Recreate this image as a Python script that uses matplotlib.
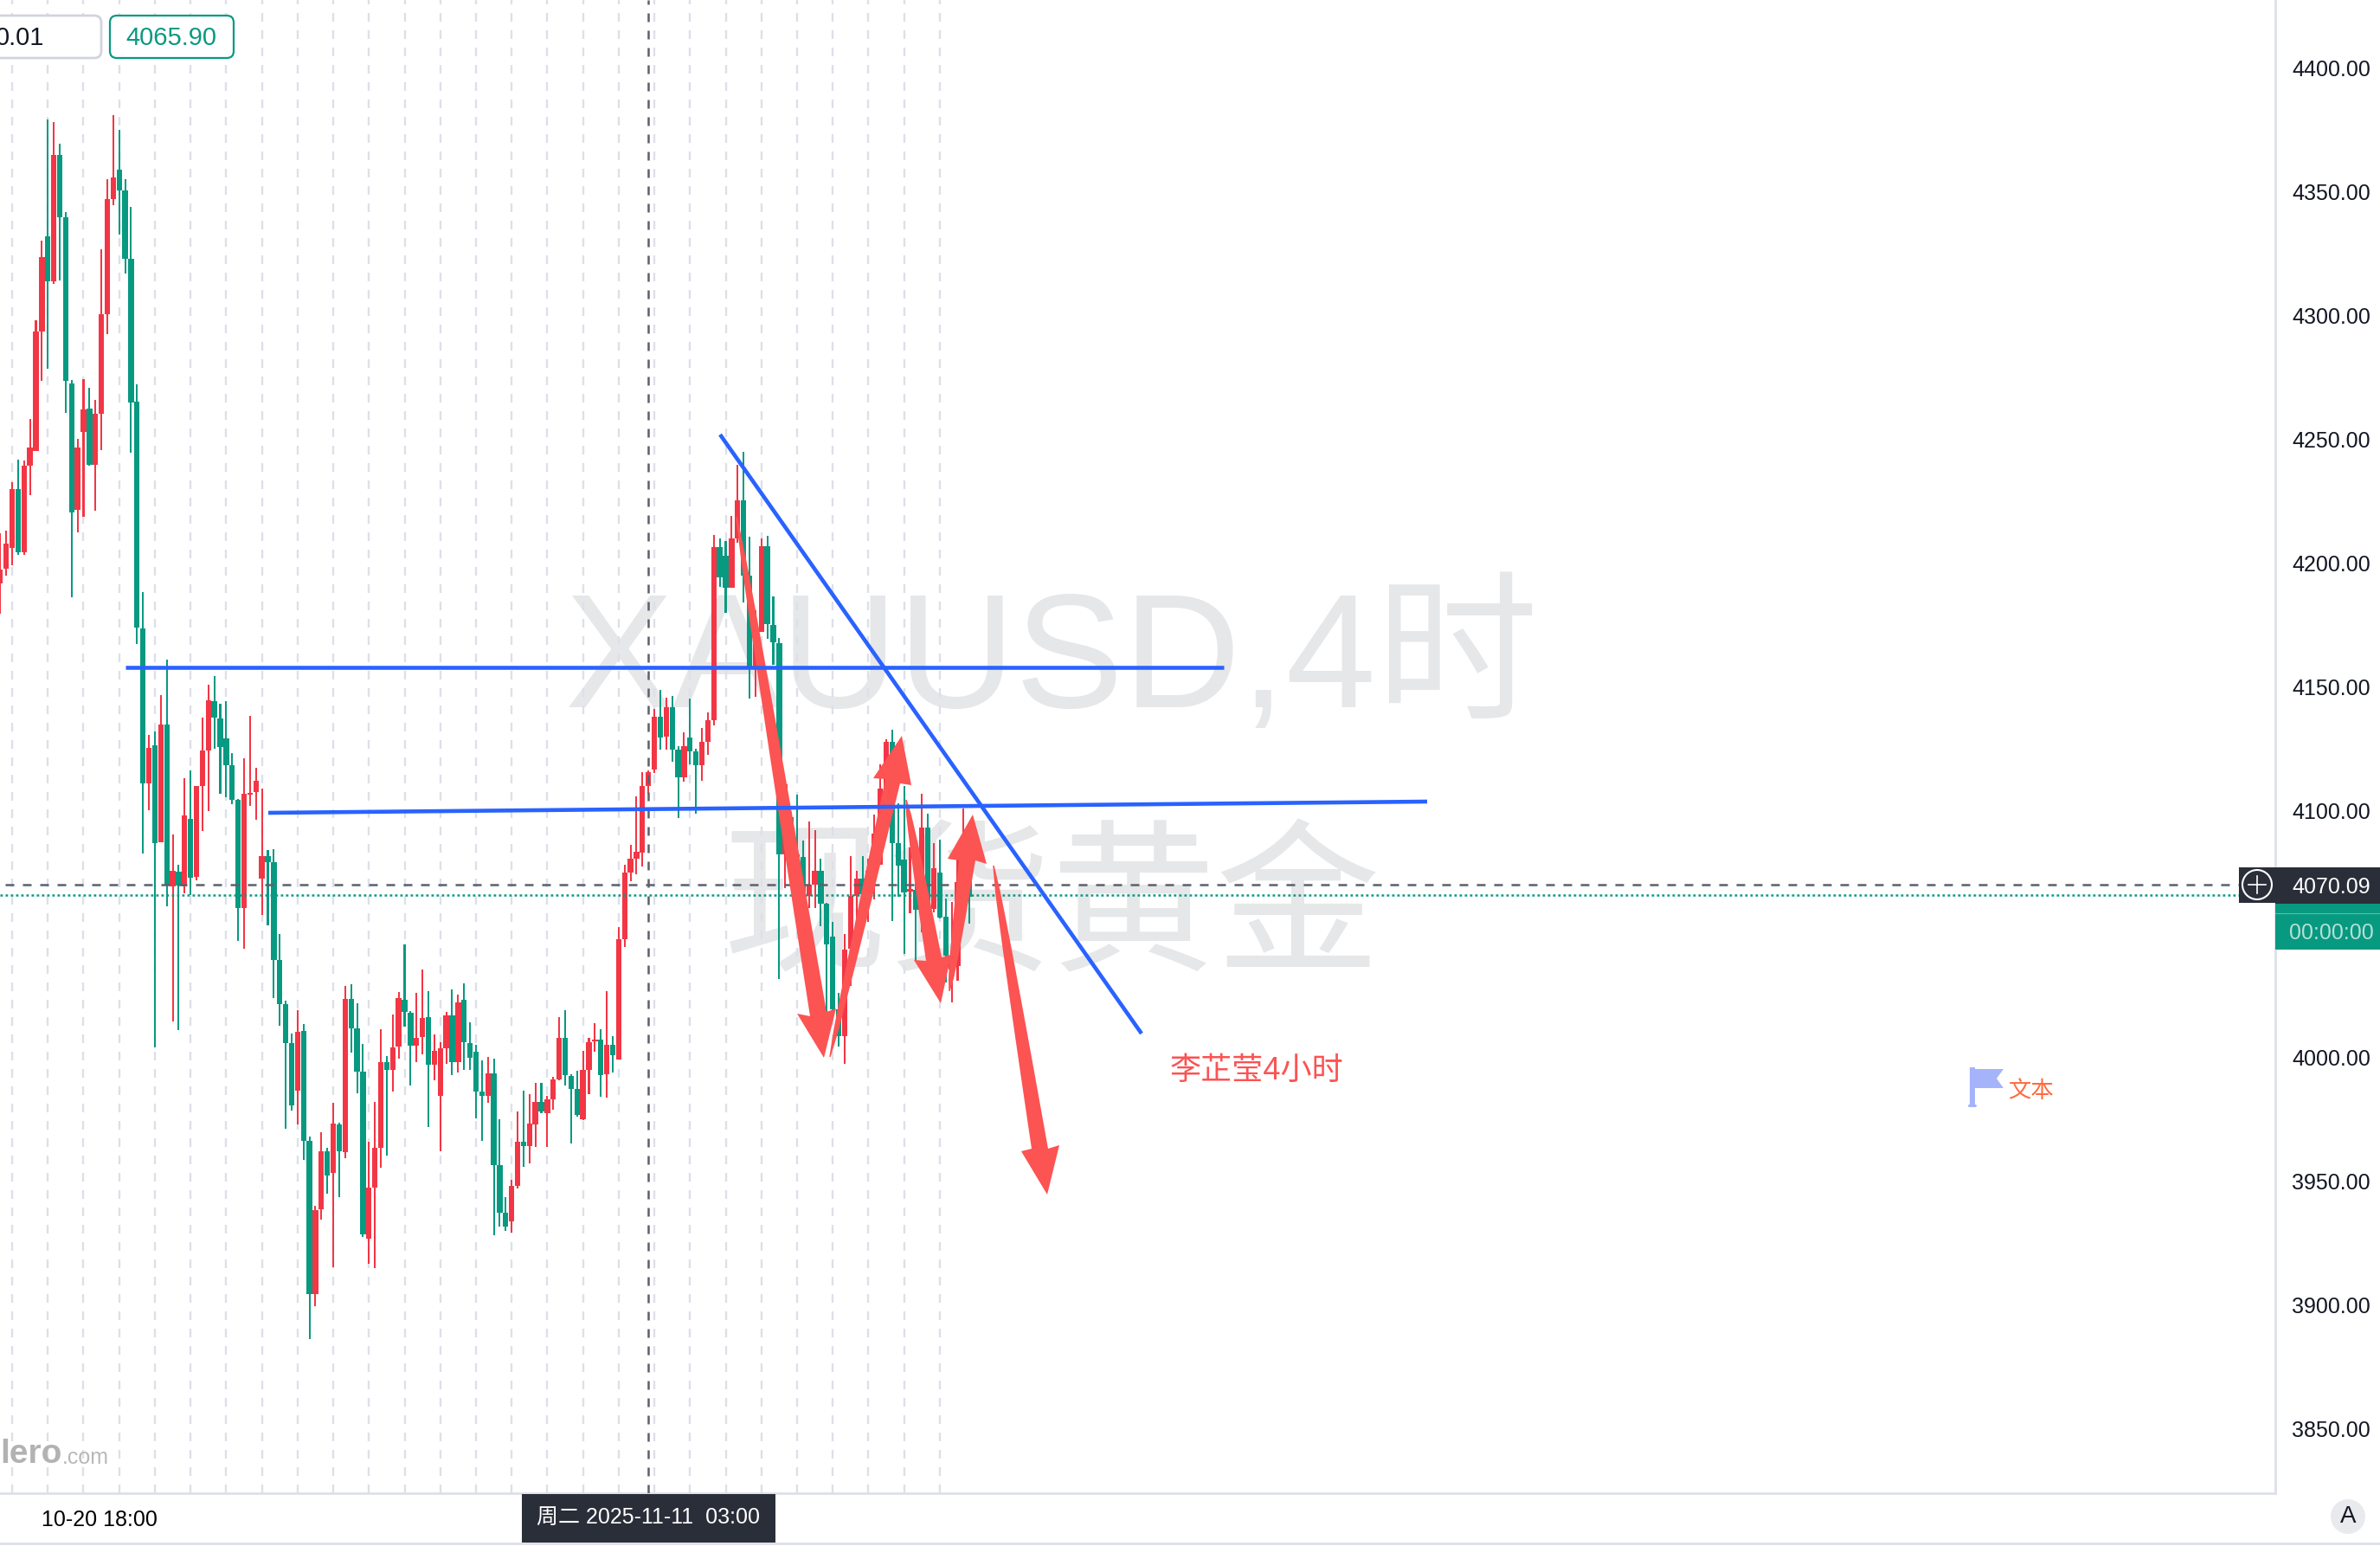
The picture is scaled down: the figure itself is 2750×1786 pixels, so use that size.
import numpy as np
import matplotlib
matplotlib.use("Agg")
import matplotlib.pyplot as plt
from matplotlib.patches import Polygon, Rectangle, Circle, FancyBboxPatch

plt.rcParams['font.family'] = ['Liberation Sans', 'Noto Sans CJK SC']
plt.rcParams['lines.scale_dashes'] = False

# 4h candles. r = red (up), g = green (down)
highs = [4212,4213.1,4232.6,4241.9,4241.4,4258.3,4298.1,4330.3,4379.4,4378.3,
    4369.5,4341.9,4274,4250.1,4274.4,4270.8,4265.9,4326.9,4355.1,4381.1,
    4375.2,4355.1,4344,4272.2,4188.3,4130.4,4132,4146.5,4161,4090.3,
    4078,4113,4116.2,4109.9,4137.5,4150.8,4154.2,4143.1,4144,4123.1,
    4104.5,4121,4138.1,4117.2,4108.7,4084,4084.3,4050,4023.1,4009.7,
    4019.2,4013.5,3968,3940,3969.7,3963.6,3981.6,3973.7,4029,4029.6,
    4022,4005.4,3966,3982.1,4011.5,4000.7,4017.4,4026.5,4045.8,4018.9,
    4026.3,4035.6,4026.9,4009.4,4006.3,4018.5,4027.6,4025.4,4030,4014.3,
    4005.2,3998.9,4000.3,3999.6,3975.1,3943.6,3950.6,3978.2,3986.6,3985.3,
    3989.8,3989.8,3984.6,3992.2,4016.3,4019.2,3993.2,3994.6,4002.7,4008,
    4013.9,4011.5,4026.9,4008.7,4052.8,4078,4086,4105.7,4115.4,4116.1,
    4141,4148.7,4145.5,4146.2,4126,4131.5,4145.2,4125,4133.2,4139.6,
    4211.4,4209.9,4208.9,4219,4239.7,4245,4210.6,4180.9,4209.9,4210.9,
    4186.5,4169.7,4110.7,4099.4,4106.4,4087.8,4095.5,4092,4080.3,4062.6,
    4054.8,4026.2,4049.9,4081.5,4075.4,4081.6,4080.4,4098.3,4118.6,4128.8,
    4132.5,4103,4109.8,4085,4072.8,4106.7,4098.6,4086.7,4088,4064.3,
    4063,4080.4,4100.8,4076.2]
body_tops = [4197.3,4207.8,4229.8,4229.8,4239.4,4246.7,4293.6,4323.7,4332,4365,
    4365,4339.8,4272.6,4246.7,4262,4262.5,4260.3,4300.6,4347.2,4355.9,
    4359,4350.6,4323,4265.3,4173.6,4125.2,4126.2,4134.6,4134.6,4075.5,
    4075.1,4098,4096.4,4109.9,4124.3,4144.4,4144,4137.1,4129.1,4118.3,
    4104.3,4106.6,4107,4112,4081.4,4081.4,4079,4039.4,4021.5,4005.8,
    4010.4,4010.8,3966.2,3938.2,3962,3962,3973.4,3973,4023.6,4023.6,
    4011.8,3994.3,3947.5,3963.6,3998.1,3998.1,4004.2,4024.1,4023.4,4018.1,
    4008,4016.1,4016.4,4002.7,4003.8,4017.1,4017.1,4022.4,4023.4,4005.9,
    4002.4,3986.3,3993.6,3993.6,3956.5,3937.3,3948.2,3966,3966,3973.3,
    3982.1,3982.1,3983.1,3991.2,4008,4008,3992.6,3987.3,3995,4006.3,
    4007.1,4007.2,4005.2,4005.2,4048,4074.9,4080.5,4083.2,4109.8,4115.4,
    4137.9,4137.9,4141.7,4141.7,4124.5,4126,4129.4,4123.9,4127.6,4136.4,
    4206.5,4206.5,4202.9,4209.9,4225.3,4225.3,4195,4172.9,4206.9,4206.9,
    4175,4167.7,4110.7,4097.4,4082.3,4081,4070,4075.7,4075.7,4062.3,
    4049,4019.4,4043.6,4065.5,4072.3,4072.3,4075.4,4090.6,4108.8,4127.6,
    4127.6,4086.7,4080.1,4068.2,4067.7,4093.2,4093.2,4076.6,4075,4057,
    4041.4,4071.1,4082.2,4074.5]
body_bottoms = [4191.9,4197.6,4206.1,4204.4,4204.4,4239.4,4245.3,4293.6,4313.9,4313.9,
    4339.8,4273.6,4220.5,4221.6,4253,4239.7,4239.7,4260.3,4300.6,4347.2,
    4350.6,4323,4264.8,4173.9,4110.8,4110.8,4086.6,4087,4069.7,4069.4,
    4069.7,4069.4,4072.6,4073,4109.9,4124.3,4137.5,4125.6,4118.3,4104.3,
    4060.5,4060.5,4106.4,4107.4,4072.4,4079,4039.4,4021.5,4005.8,3980.7,
    3986.6,3966.2,3904.4,3904.4,3938.6,3952.2,3953.4,3962,3961.9,4011.8,
    3994.3,3928.6,3926.7,3947.5,3963.6,3995,3995,4004.4,4018.5,4004.8,
    4004.8,4008.3,3997.2,3997.2,3984.6,4003.8,3998.1,3998.1,4006.3,3999.9,
    3986.3,3984.6,3984.6,3956.5,3937.3,3931.7,3933.8,3948.2,3964.4,3964.4,
    3972.9,3978.4,3977.5,3983.1,3991.2,3992.9,3987.3,3976.7,3975,3995,
    4006.7,3992.9,3993.3,4000.9,3999.2,4048,4074.9,4080.5,4082.9,4109.8,
    4116.5,4129.4,4129.8,4124.5,4113.3,4113.3,4123.9,4118.3,4118.3,4127.6,
    4136.4,4194.1,4190,4190,4209.9,4195,4158,4157.6,4172,4175.3,
    4167.8,4082.3,4082.3,4082.3,4081.3,4065.5,4065.5,4070.1,4062.3,4045.7,
    4019.4,4008.7,4008.7,4044,4065.5,4066,4066,4075.4,4077.9,4108.8,
    4086.7,4077.6,4066.9,4067.2,4059.8,4059.8,4062.6,4060.1,4056.7,4041.4,
    4035.5,4036.9,4071.1,4065.2]
lows = [4179.5,4194.8,4199,4203.3,4203.3,4227.5,4245.3,4273.6,4278.6,4312.8,
    4314.2,4260.8,4186.1,4212.3,4218.7,4239.4,4221.1,4245.6,4292.5,4344.7,
    4332.8,4317,4244.5,4167.2,4082.6,4100.1,4004.1,4087,4061.1,4014.6,
    4011.2,4066.5,4065.9,4071.7,4091.6,4099.7,4124.9,4106.6,4105.3,4102.4,
    4047.1,4044,4101.8,4096.2,4057.7,4053.4,4024.1,4012.9,3971.3,3978.6,
    3973,3958.6,3886.2,3899.4,3934.4,3945,3915.2,3943.6,3959.4,4002,
    3985.7,3927.5,3916.7,3914.9,3955.5,3960.4,3986.3,3999.6,4012.6,3988.8,
    3998.1,4001.3,3971.9,3990.9,3962.1,3997.5,3992.9,3994,3995,3995,
    3975.5,3966.4,3981.8,3928.2,3931.7,3930,3929.3,3947.1,3955.8,3957.3,
    3963.8,3977.5,3963.8,3979,3990.9,3988.8,3965.3,3976,3974.7,3985.3,
    4002.4,3984.2,3983.8,3994,3999.2,4044.7,4071.5,4074.2,4077.3,4106.6,
    4115.2,4124.5,4124.5,4119.7,4096.9,4111.6,4118.6,4098.8,4112,4122.5,
    4134.4,4190.4,4179.9,4190,4208.2,4184.1,4145.3,4145.8,4172,4169.3,
    4158.7,4031.8,4068.4,4081,4066,4065.2,4060.6,4060.6,4053,4018.5,
    4017.7,4004.4,3997.6,4029,4044,4054.2,4055,4064,4077.9,4106.7,
    4055.3,4065.2,4041.9,4058.4,4038.9,4050.8,4059.2,4058.9,4056.2,4030.4,
    4022.3,4031.1,4068.6,4054.2]
directions = ("rrrgrrrrgr" "gggrrgrrrr" "gggggrgrgr" "grgrrrgggg" "grrrrggggg"
    "rggrrgrgrg" "ggrrrgrrgg" "rrgrrrgrgg" "ggrgggrrgr" "rgrrrgggrr"
    "rgrgrrrrrr" "rgrggrggrr" "rggrrggrrg" "ggrgggrrgg" "ggrrrgrrrr"
    "gggrgrgrgg" "rrrg")

price_ticks = [3850, 3900, 3950, 4000, 4050, 4100, 4150, 4200, 4250, 4300, 4350, 4400]
grid_bars = list(range(2, 164, 6))
date_tick_bar = 16.7
date_tick_label = "10-20 18:00"
crosshair_bar = 109
crosshair_label = "周二 2025-11-11  03:00"
last_price = 4070.09
bid_price = 4065.90

RED = '#F23645'
GREEN = '#089981'
BLUE = '#2962FF'
ARROW = '#FC5353'
DARK = '#2A2E39'
GREY_LINE = '#5D606B'
GRID = '#DDE0E9'
WATERMARK = '#E6E7E9'

W, H = 2750, 1786
fig = plt.figure(figsize=(W / 100, H / 100), dpi=100)

# price panel
ax = fig.add_axes([0, (H - 1725) / H, 2629 / W, 1725 / H])
ax.set_xlim(-0.044, 382.6)
ax.set_ylim(3823.9, 4427.65)

# everything drawn by hand on the chart lives on this pixel overlay
top = fig.add_axes([0, 0, 1, 1], zorder=5)
top.set_xlim(0, W)
top.set_ylim(H, 0)
top.axis('off')

x = np.arange(len(highs))
highs, lows = np.array(highs), np.array(lows)
body_tops, body_bottoms = np.array(body_tops), np.array(body_bottoms)
colors = [RED if d == 'r' else GREEN for d in directions]

ax.bar(x, highs - lows, bottom=lows, width=0.3, color=colors, zorder=3, linewidth=0)
ax.bar(x, np.maximum(body_tops - body_bottoms, 0.6), bottom=body_bottoms, width=0.92,
       color=colors, zorder=3, linewidth=0)

ax.set_xticks(grid_bars, labels=[""] * len(grid_bars))
ax.set_xticks([date_tick_bar], labels=[date_tick_label], minor=True)
ax.grid(axis='x', which='major', color=GRID, linewidth=1.7, dashes=(7.2, 7.2), zorder=1)
ax.set_axisbelow(True)
ax.tick_params(axis='x', which='both', length=0, labelsize=18, pad=14, colors='black')

ax.yaxis.tick_right()
ax.set_yticks(price_ticks, labels=["%.2f" % p for p in price_ticks])
ax.tick_params(axis='y', length=0, labelsize=18, pad=14, colors='#131722')

for side in ['left', 'top']:
    ax.spines[side].set_visible(False)
for side in ['right', 'bottom']:
    ax.spines[side].set_color(GRID)
    ax.spines[side].set_linewidth(2)

# price lines and crosshair
ax.plot([0.9, 376.5], [last_price, last_price], color=GREY_LINE, lw=1.8, dashes=(7.2, 7.2), zorder=4)
ax.plot([0, 376.5], [bid_price, bid_price], color=GREEN, lw=1.8, dashes=(2, 2.32), zorder=4)
ax.axvline(crosshair_bar, color=GREY_LINE, lw=1.8, dashes=(7.2, 7.2), zorder=4)

# watermark sits under the candles
ax.text(1215, 766, "XAUUSD,4时", transform=top.transData, fontsize=135, color=WATERMARK,
        ha='center', va='center', zorder=0)
ax.text(1215, 1058, "现货黄金", transform=top.transData, fontsize=137, color=WATERMARK,
        ha='center', va='center', zorder=0)

# trend lines
top.plot([145, 1414], [771, 771], color=BLUE, lw=3.3, solid_capstyle='butt')
top.plot([310, 1649], [939, 926], color=BLUE, lw=3.3, solid_capstyle='butt')
top.plot([832, 1319], [502, 1194], color=BLUE, lw=3.3, solid_capstyle='butt')

# hand drawn arrows: tail, shaft end left/right, barb left/right, tip
arrows = [
    [(851, 597), (936, 1174), (955, 1169), (921, 1171), (966, 1165), (952, 1222)],
    [(959, 1221), (1023, 900), (1040, 905), (1009, 899), (1053, 907), (1042, 850)],
    [(1047, 924), (1070, 1110), (1088, 1106), (1056, 1109), (1099, 1103), (1087, 1159)],
    [(1097, 1145), (1108, 994), (1127, 994), (1095, 992), (1140, 998), (1124, 941)],
    [(1148, 1000), (1192, 1327), (1211, 1327), (1180, 1330), (1224, 1323), (1210, 1380)],
]
for tail, sl, sr, bl, br, tip in arrows:
    tail, sl, sr = np.array(tail, float), np.array(sl, float), np.array(sr, float)
    # the brush swells quickly from the tail, so not a straight taper
    t = np.linspace(0, 1, 12)[:, None]
    mid = tail + t * ((sl + sr) / 2 - tail)
    half = (sr - sl) / 2 * (t ** 0.6 + 0.08 * (1 - t))
    pts = list(mid + half) + [br, tip, bl] + list((mid - half)[::-1])
    top.add_patch(Polygon(pts, closed=True, facecolor=ARROW, edgecolor='none'))

top.text(1452, 1237, "李芷莹4小时", fontsize=26, color=ARROW, ha='center', va='center')

# flag with its label
flag_col = '#A5B4FA'
top.add_patch(Polygon([(2282, 1235), (2315, 1235), (2307, 1246), (2315, 1257), (2282, 1257)],
                      closed=True, facecolor=flag_col, edgecolor='none'))
top.add_patch(Rectangle((2276, 1233), 6, 45, facecolor=flag_col, edgecolor='none'))
top.add_patch(FancyBboxPatch((2274, 1276), 10, 3, boxstyle="round,pad=0,rounding_size=1.5",
                             facecolor=flag_col, edgecolor='none'))
top.text(2346, 1261, "文本", fontsize=19, color='#FF6B3D', ha='center', va='center')

# order boxes, top left
top.add_patch(FancyBboxPatch((-40, 18), 157, 49, boxstyle="round,pad=0,rounding_size=8",
                             facecolor='white', edgecolor='#D1D4DC', lw=2))
top.text(51, 44, "0.01", fontsize=21, color='#131722', ha='right', va='center')
top.add_patch(FancyBboxPatch((127, 18), 143, 49, boxstyle="round,pad=0,rounding_size=8",
                             facecolor='white', edgecolor=GREEN, lw=1.6))
top.text(198, 44, "%.2f" % bid_price, fontsize=21, color=GREEN, ha='center', va='center')

# logo, cut by the left edge
top.text(72, 1680, "lero", fontsize=28, fontweight='bold', color='#B2B2B2', ha='right', va='center')
top.text(72, 1684, ".com", fontsize=18, color='#B8B8B8', ha='left', va='center')

# right axis tags
top.add_patch(Rectangle((2587, 1002), 42, 41, facecolor=DARK, edgecolor='none'))
top.add_patch(Circle((2608, 1022), 17, facecolor='none', edgecolor='white', lw=1.5))
top.plot([2598, 2618], [1022, 1022], color='white', lw=1.2)
top.plot([2608, 2608], [1012, 1032], color='white', lw=1.2)
top.add_patch(Rectangle((2629, 1002), 121, 42, facecolor=DARK, edgecolor='none'))
top.text(2694, 1025, "%.2f" % last_price, fontsize=18, color='white', ha='center', va='center')
top.add_patch(Rectangle((2629, 1044), 121, 53, facecolor=GREEN, edgecolor='none'))
top.plot([2629, 2750], [1055, 1055], color='#5BBFAB', lw=0.8)
top.text(2694, 1078, "00:00:00", fontsize=18, color='#B4E0D5', ha='center', va='center')

# bottom strip
top.plot([0, W], [1783, 1783], color=GRID, lw=2)
top.add_patch(Rectangle((603, 1726), 293, 56, facecolor=DARK, edgecolor='none'))
top.text(749, 1754, crosshair_label, fontsize=18, color='white', ha='center', va='center')
top.add_patch(Circle((2713, 1752), 20, facecolor='#E9EAEE', edgecolor='none'))
top.text(2713, 1752, "A", fontsize=20, color='#131722', ha='center', va='center')

fig.savefig("out.png", dpi=100)
